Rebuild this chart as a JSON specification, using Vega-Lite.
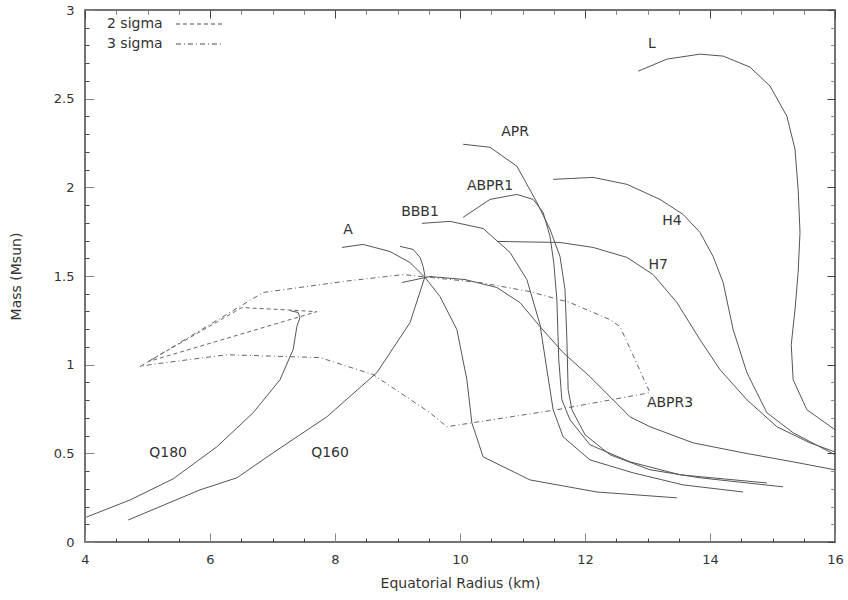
{
  "$schema": "https://vega.github.io/schema/vega-lite/v6.json",
  "width": 750,
  "height": 532,
  "autosize": {"type": "none"},
  "padding": {"left": 85, "top": 10, "right": 13, "bottom": 58},
  "background": "white",
  "config": {
    "font": "DejaVu Sans",
    "view": {"stroke": "#444", "strokeWidth": 1.5},
    "axis": {"domain": false, "labelColor": "#333", "labelFontSize": 13, "labelFont": "DejaVu Sans", "titleFont": "DejaVu Sans", "titleFontSize": 14, "titleFontWeight": "normal", "titleColor": "#333", "labelOverlap": false, "labelFlush": false, "labelBound": false}
  },
  "datasets": {
    "eos": [
      {"eos": "Q180", "i": 0, "r": 4.02, "m": 0.14},
      {"eos": "Q180", "i": 1, "r": 4.72, "m": 0.237},
      {"eos": "Q180", "i": 2, "r": 5.41, "m": 0.356},
      {"eos": "Q180", "i": 3, "r": 6.11, "m": 0.537},
      {"eos": "Q180", "i": 4, "r": 6.69, "m": 0.729},
      {"eos": "Q180", "i": 5, "r": 7.12, "m": 0.915},
      {"eos": "Q180", "i": 6, "r": 7.33, "m": 1.085},
      {"eos": "Q180", "i": 7, "r": 7.39, "m": 1.215},
      {"eos": "Q180", "i": 8, "r": 7.44, "m": 1.266},
      {"eos": "Q180", "i": 9, "r": 7.41, "m": 1.294},
      {"eos": "Q180", "i": 10, "r": 7.28, "m": 1.305},
      {"eos": "Q160", "i": 0, "r": 4.69, "m": 0.124},
      {"eos": "Q160", "i": 1, "r": 5.84, "m": 0.294},
      {"eos": "Q160", "i": 2, "r": 6.43, "m": 0.362},
      {"eos": "Q160", "i": 3, "r": 7.01, "m": 0.503},
      {"eos": "Q160", "i": 4, "r": 7.87, "m": 0.706},
      {"eos": "Q160", "i": 5, "r": 8.67, "m": 0.955},
      {"eos": "Q160", "i": 6, "r": 9.2, "m": 1.237},
      {"eos": "Q160", "i": 7, "r": 9.44, "m": 1.497},
      {"eos": "Q160", "i": 8, "r": 9.41, "m": 1.554},
      {"eos": "Q160", "i": 9, "r": 9.36, "m": 1.605},
      {"eos": "Q160", "i": 10, "r": 9.25, "m": 1.65},
      {"eos": "Q160", "i": 11, "r": 9.04, "m": 1.667},
      {"eos": "A", "i": 0, "r": 8.11, "m": 1.661},
      {"eos": "A", "i": 1, "r": 8.45, "m": 1.678},
      {"eos": "A", "i": 2, "r": 8.88, "m": 1.638},
      {"eos": "A", "i": 3, "r": 9.2, "m": 1.576},
      {"eos": "A", "i": 4, "r": 9.44, "m": 1.492},
      {"eos": "A", "i": 5, "r": 9.68, "m": 1.384},
      {"eos": "A", "i": 6, "r": 9.95, "m": 1.198},
      {"eos": "A", "i": 7, "r": 10.11, "m": 0.915},
      {"eos": "A", "i": 8, "r": 10.19, "m": 0.672},
      {"eos": "A", "i": 9, "r": 10.37, "m": 0.48},
      {"eos": "A", "i": 10, "r": 11.12, "m": 0.35},
      {"eos": "A", "i": 11, "r": 12.19, "m": 0.282},
      {"eos": "A", "i": 12, "r": 13.47, "m": 0.249},
      {"eos": "ABPR3", "i": 0, "r": 9.07, "m": 1.463},
      {"eos": "ABPR3", "i": 1, "r": 9.52, "m": 1.497},
      {"eos": "ABPR3", "i": 2, "r": 10.08, "m": 1.48},
      {"eos": "ABPR3", "i": 3, "r": 10.59, "m": 1.435},
      {"eos": "ABPR3", "i": 4, "r": 10.96, "m": 1.35},
      {"eos": "ABPR3", "i": 5, "r": 11.28, "m": 1.215},
      {"eos": "ABPR3", "i": 6, "r": 11.65, "m": 1.068},
      {"eos": "ABPR3", "i": 7, "r": 12.08, "m": 0.932},
      {"eos": "ABPR3", "i": 8, "r": 12.4, "m": 0.819},
      {"eos": "ABPR3", "i": 9, "r": 12.72, "m": 0.706},
      {"eos": "ABPR3", "i": 10, "r": 13.04, "m": 0.65},
      {"eos": "ABPR3", "i": 11, "r": 13.73, "m": 0.559},
      {"eos": "ABPR3", "i": 12, "r": 14.53, "m": 0.503},
      {"eos": "ABPR3", "i": 13, "r": 15.33, "m": 0.452},
      {"eos": "ABPR3", "i": 14, "r": 16.0, "m": 0.407},
      {"eos": "BBB1", "i": 0, "r": 9.39, "m": 1.797},
      {"eos": "BBB1", "i": 1, "r": 9.84, "m": 1.808},
      {"eos": "BBB1", "i": 2, "r": 10.37, "m": 1.768},
      {"eos": "BBB1", "i": 3, "r": 10.8, "m": 1.633},
      {"eos": "BBB1", "i": 4, "r": 11.07, "m": 1.48},
      {"eos": "BBB1", "i": 5, "r": 11.28, "m": 1.226},
      {"eos": "BBB1", "i": 6, "r": 11.39, "m": 0.972},
      {"eos": "BBB1", "i": 7, "r": 11.49, "m": 0.746},
      {"eos": "BBB1", "i": 8, "r": 11.65, "m": 0.593},
      {"eos": "BBB1", "i": 9, "r": 12.08, "m": 0.463},
      {"eos": "BBB1", "i": 10, "r": 12.77, "m": 0.39},
      {"eos": "BBB1", "i": 11, "r": 13.57, "m": 0.322},
      {"eos": "BBB1", "i": 12, "r": 14.53, "m": 0.282},
      {"eos": "APR", "i": 0, "r": 10.05, "m": 2.243},
      {"eos": "APR", "i": 1, "r": 10.48, "m": 2.226},
      {"eos": "APR", "i": 2, "r": 10.91, "m": 2.119},
      {"eos": "APR", "i": 3, "r": 11.23, "m": 1.915},
      {"eos": "APR", "i": 4, "r": 11.44, "m": 1.763},
      {"eos": "APR", "i": 5, "r": 11.6, "m": 1.61},
      {"eos": "APR", "i": 6, "r": 11.68, "m": 1.424},
      {"eos": "APR", "i": 7, "r": 11.71, "m": 1.141},
      {"eos": "APR", "i": 8, "r": 11.73, "m": 0.859},
      {"eos": "APR", "i": 9, "r": 11.79, "m": 0.746},
      {"eos": "APR", "i": 10, "r": 12.0, "m": 0.605},
      {"eos": "APR", "i": 11, "r": 12.4, "m": 0.492},
      {"eos": "APR", "i": 12, "r": 13.04, "m": 0.407},
      {"eos": "APR", "i": 13, "r": 13.84, "m": 0.362},
      {"eos": "APR", "i": 14, "r": 15.17, "m": 0.311},
      {"eos": "ABPR1", "i": 0, "r": 10.05, "m": 1.831},
      {"eos": "ABPR1", "i": 1, "r": 10.48, "m": 1.932},
      {"eos": "ABPR1", "i": 2, "r": 10.91, "m": 1.96},
      {"eos": "ABPR1", "i": 3, "r": 11.17, "m": 1.932},
      {"eos": "ABPR1", "i": 4, "r": 11.33, "m": 1.859},
      {"eos": "ABPR1", "i": 5, "r": 11.44, "m": 1.723},
      {"eos": "ABPR1", "i": 6, "r": 11.5, "m": 1.576},
      {"eos": "ABPR1", "i": 7, "r": 11.55, "m": 1.367},
      {"eos": "ABPR1", "i": 8, "r": 11.58, "m": 1.028},
      {"eos": "ABPR1", "i": 9, "r": 11.63, "m": 0.802},
      {"eos": "ABPR1", "i": 10, "r": 11.76, "m": 0.689},
      {"eos": "ABPR1", "i": 11, "r": 12.08, "m": 0.548},
      {"eos": "ABPR1", "i": 12, "r": 12.72, "m": 0.452},
      {"eos": "ABPR1", "i": 13, "r": 13.52, "m": 0.379},
      {"eos": "ABPR1", "i": 14, "r": 14.91, "m": 0.333},
      {"eos": "H4", "i": 0, "r": 11.49, "m": 2.045},
      {"eos": "H4", "i": 1, "r": 12.13, "m": 2.056},
      {"eos": "H4", "i": 2, "r": 12.67, "m": 2.017},
      {"eos": "H4", "i": 3, "r": 13.2, "m": 1.932},
      {"eos": "H4", "i": 4, "r": 13.57, "m": 1.847},
      {"eos": "H4", "i": 5, "r": 13.84, "m": 1.746},
      {"eos": "H4", "i": 6, "r": 14.05, "m": 1.61},
      {"eos": "H4", "i": 7, "r": 14.21, "m": 1.463},
      {"eos": "H4", "i": 8, "r": 14.37, "m": 1.198},
      {"eos": "H4", "i": 9, "r": 14.59, "m": 0.955},
      {"eos": "H4", "i": 10, "r": 14.91, "m": 0.729},
      {"eos": "H4", "i": 11, "r": 15.33, "m": 0.616},
      {"eos": "H4", "i": 12, "r": 16.0, "m": 0.492},
      {"eos": "H7", "i": 0, "r": 10.59, "m": 1.695},
      {"eos": "H7", "i": 1, "r": 11.6, "m": 1.689},
      {"eos": "H7", "i": 2, "r": 12.13, "m": 1.661},
      {"eos": "H7", "i": 3, "r": 12.67, "m": 1.605},
      {"eos": "H7", "i": 4, "r": 13.09, "m": 1.508},
      {"eos": "H7", "i": 5, "r": 13.47, "m": 1.35},
      {"eos": "H7", "i": 6, "r": 13.84, "m": 1.141},
      {"eos": "H7", "i": 7, "r": 14.16, "m": 0.972},
      {"eos": "H7", "i": 8, "r": 14.59, "m": 0.802},
      {"eos": "H7", "i": 9, "r": 15.07, "m": 0.65},
      {"eos": "H7", "i": 10, "r": 15.6, "m": 0.559},
      {"eos": "H7", "i": 11, "r": 16.0, "m": 0.508},
      {"eos": "L", "i": 0, "r": 12.85, "m": 2.655},
      {"eos": "L", "i": 1, "r": 13.31, "m": 2.723},
      {"eos": "L", "i": 2, "r": 13.84, "m": 2.751},
      {"eos": "L", "i": 3, "r": 14.21, "m": 2.74},
      {"eos": "L", "i": 4, "r": 14.64, "m": 2.678},
      {"eos": "L", "i": 5, "r": 14.96, "m": 2.571},
      {"eos": "L", "i": 6, "r": 15.23, "m": 2.401},
      {"eos": "L", "i": 7, "r": 15.36, "m": 2.215},
      {"eos": "L", "i": 8, "r": 15.41, "m": 1.989},
      {"eos": "L", "i": 9, "r": 15.44, "m": 1.746},
      {"eos": "L", "i": 10, "r": 15.41, "m": 1.52},
      {"eos": "L", "i": 11, "r": 15.36, "m": 1.311},
      {"eos": "L", "i": 12, "r": 15.3, "m": 1.113},
      {"eos": "L", "i": 13, "r": 15.33, "m": 0.915},
      {"eos": "L", "i": 14, "r": 15.55, "m": 0.746},
      {"eos": "L", "i": 15, "r": 16.0, "m": 0.633}
    ],
    "sigma": [
      {"contour": "2 sigma", "i": 0, "r": 5.01, "m": 1.017},
      {"contour": "2 sigma", "i": 1, "r": 6.51, "m": 1.322},
      {"contour": "2 sigma", "i": 2, "r": 7.12, "m": 1.311},
      {"contour": "2 sigma", "i": 3, "r": 7.71, "m": 1.299},
      {"contour": "2 sigma", "i": 4, "r": 5.01, "m": 1.017},
      {"contour": "3 sigma", "i": 0, "r": 4.88, "m": 0.989},
      {"contour": "3 sigma", "i": 1, "r": 6.85, "m": 1.407},
      {"contour": "3 sigma", "i": 2, "r": 8.13, "m": 1.469},
      {"contour": "3 sigma", "i": 3, "r": 9.09, "m": 1.508},
      {"contour": "3 sigma", "i": 4, "r": 9.52, "m": 1.492},
      {"contour": "3 sigma", "i": 5, "r": 10.32, "m": 1.463},
      {"contour": "3 sigma", "i": 6, "r": 11.12, "m": 1.412},
      {"contour": "3 sigma", "i": 7, "r": 11.76, "m": 1.35},
      {"contour": "3 sigma", "i": 8, "r": 12.4, "m": 1.254},
      {"contour": "3 sigma", "i": 9, "r": 12.56, "m": 1.215},
      {"contour": "3 sigma", "i": 10, "r": 13.04, "m": 0.842},
      {"contour": "3 sigma", "i": 11, "r": 11.55, "m": 0.746},
      {"contour": "3 sigma", "i": 12, "r": 9.79, "m": 0.65},
      {"contour": "3 sigma", "i": 13, "r": 9.52, "m": 0.729},
      {"contour": "3 sigma", "i": 14, "r": 8.61, "m": 0.944},
      {"contour": "3 sigma", "i": 15, "r": 7.76, "m": 1.04},
      {"contour": "3 sigma", "i": 16, "r": 6.27, "m": 1.056},
      {"contour": "3 sigma", "i": 17, "r": 5.04, "m": 1.0},
      {"contour": "3 sigma", "i": 18, "r": 4.88, "m": 0.989}
    ],
    "labels": [
      {"text": "L", "r": 13.07, "m": 2.81},
      {"text": "APR", "r": 10.88, "m": 2.31},
      {"text": "ABPR1", "r": 10.48, "m": 2.01},
      {"text": "BBB1", "r": 9.36, "m": 1.86},
      {"text": "A", "r": 8.21, "m": 1.76},
      {"text": "H4", "r": 13.39, "m": 1.81},
      {"text": "H7", "r": 13.17, "m": 1.56},
      {"text": "ABPR3", "r": 13.36, "m": 0.785},
      {"text": "Q180", "r": 5.33, "m": 0.503},
      {"text": "Q160", "r": 7.92, "m": 0.503}
    ]
  },
  "layer": [
    {
      "data": {"name": "eos"},
      "mark": {"type": "line", "stroke": "#555", "strokeWidth": 1},
      "encoding": {
        "x": {"field": "r", "type": "quantitative", "scale": {"domain": [4, 16], "nice": false, "zero": false},
          "axis": {"orient": "bottom", "title": "Equatorial Radius (km)", "values": [4, 6, 8, 10, 12, 14, 16], "format": "d",
            "tickSize": -9, "grid": true, "gridColor": "#444", "gridOpacity": 1, "gridWidth": 1, "gridDash": [8, 516],
            "labelPadding": 20, "titlePadding": 10}},
        "y": {"field": "m", "type": "quantitative", "scale": {"domain": [0, 3], "nice": false, "zero": false},
          "axis": {"orient": "left", "title": "Mass (Msun)", "values": [0, 0.5, 1, 1.5, 2, 2.5, 3], "format": "~g",
            "tickSize": -9, "grid": true, "gridColor": "#444", "gridOpacity": 1, "gridWidth": 1, "gridDash": [8, 734],
            "labelPadding": 20, "titlePadding": 30}},
        "detail": {"field": "eos", "type": "nominal"},
        "order": {"field": "i", "type": "quantitative"}
      }
    },
    {
      "data": {"name": "sigma"},
      "mark": {"type": "line", "stroke": "#666", "strokeWidth": 1},
      "encoding": {
        "x": {"field": "r", "type": "quantitative", "scale": {"domain": [4, 16], "nice": false, "zero": false}, "axis": null},
        "y": {"field": "m", "type": "quantitative", "scale": {"domain": [0, 3], "nice": false, "zero": false}, "axis": null},
        "strokeDash": {"field": "contour", "type": "nominal",
          "scale": {"domain": ["2 sigma", "3 sigma"], "range": [[4, 3], [5, 3, 1, 3]]},
          "legend": {"orient": "none", "legendX": 22, "legendY": 1, "title": null, "padding": 0,
            "symbolType": "M-1,0H3", "symbolSize": 576, "symbolOffset": 68, "labelOffset": -94,
            "symbolStrokeColor": "#888", "symbolStrokeWidth": 1.5, "labelFontSize": 14, "labelFont": "DejaVu Sans", "labelColor": "#333", "rowPadding": -2}},
        "order": {"field": "i", "type": "quantitative"}
      }
    },
    {
      "data": {"name": "labels"},
      "mark": {"type": "text", "fontSize": 14, "font": "DejaVu Sans", "color": "#333"},
      "encoding": {
        "x": {"field": "r", "type": "quantitative", "scale": {"domain": [4, 16], "nice": false, "zero": false},
          "axis": {"orient": "top", "title": null, "labels": false, "tickSize": -4,
            "values": [4.5, 5, 5.5, 6.5, 7, 7.5, 8.5, 9, 9.5, 10.5, 11, 11.5, 12.5, 13, 13.5, 14.5, 15, 15.5],
            "grid": true, "gridColor": "#444", "gridOpacity": 1, "gridWidth": 1, "gridDash": [4, 524]}},
        "y": {"field": "m", "type": "quantitative", "scale": {"domain": [0, 3], "nice": false, "zero": false},
          "axis": {"orient": "right", "title": null, "labels": false, "tickSize": -4,
            "values": [0.1, 0.2, 0.3, 0.4, 0.6, 0.7, 0.8, 0.9, 1.1, 1.2, 1.3, 1.4, 1.6, 1.7, 1.8, 1.9, 2.1, 2.2, 2.3, 2.4, 2.6, 2.7, 2.8, 2.9],
            "grid": true, "gridColor": "#444", "gridOpacity": 1, "gridWidth": 1, "gridDash": [4, 742]}},
        "text": {"field": "text", "type": "nominal"}
      }
    }
  ]
}
